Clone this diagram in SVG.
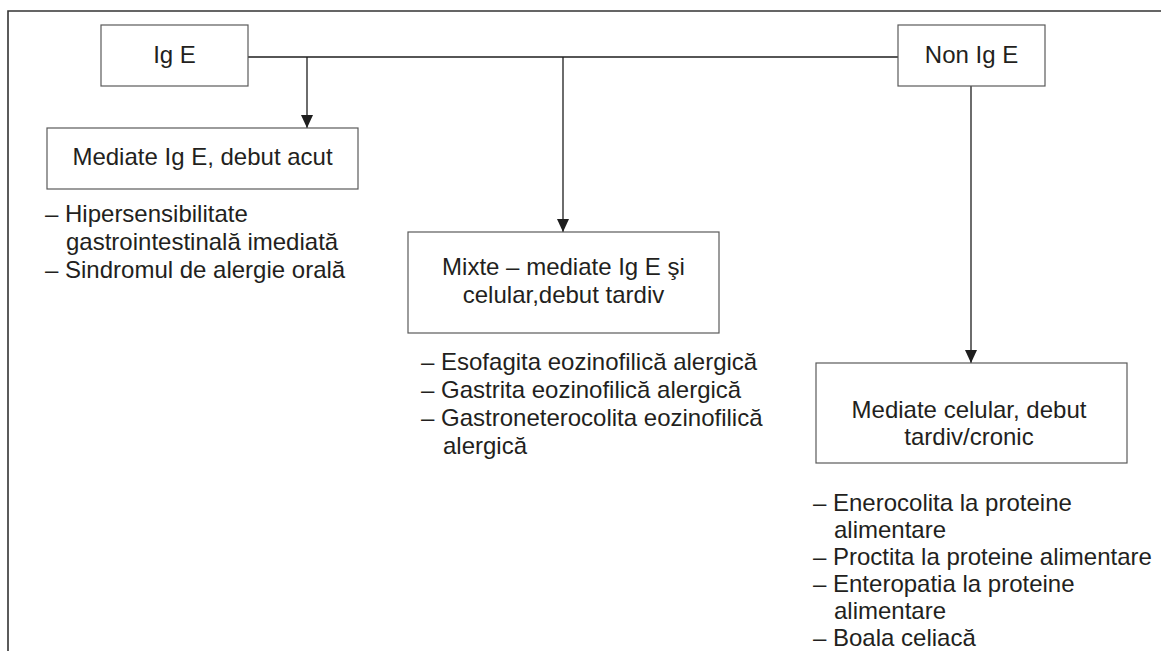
<svg xmlns="http://www.w3.org/2000/svg" width="1161" height="651" viewBox="0 0 1161 651">
  <style>
    .box { fill: #ffffff; stroke: #5a5a5a; stroke-width: 1.2; }
    .frame { fill: none; stroke: #333333; stroke-width: 1.6; }
    .conn { fill: none; stroke: #1e1e1e; stroke-width: 1.3; }
    text { font-family: "Liberation Sans", Arial, sans-serif; font-size: 24px; fill: #231f20; }
    .c { text-anchor: middle; }
  </style>
  <defs>
    <marker id="arrow" viewBox="0 0 13 12" refX="13" refY="6" markerWidth="13" markerHeight="12" markerUnits="userSpaceOnUse" orient="auto">
      <path d="M0,0 L13,6 L0,12 Z" fill="#1e1e1e"/>
    </marker>
  </defs>
  <rect width="1161" height="651" fill="#ffffff"/>
  <path class="frame" d="M8,651 L8,11 L1161,11"/>

  <g id="connectors">
    <line class="conn" x1="248" y1="57" x2="898" y2="57"/>
    <line class="conn" x1="307" y1="57" x2="307" y2="128" marker-end="url(#arrow)"/>
    <line class="conn" x1="563" y1="57" x2="563" y2="232" marker-end="url(#arrow)"/>
    <line class="conn" x1="971" y1="86" x2="971" y2="363" marker-end="url(#arrow)"/>
  </g>

  <g id="node-ige">
    <rect class="box" x="101" y="25" width="147" height="61"/>
    <text class="c" x="174.5" y="63">Ig E</text>
  </g>

  <g id="node-non-ige">
    <rect class="box" x="898" y="25" width="147" height="61"/>
    <text class="c" x="971.5" y="63">Non Ig E</text>
  </g>

  <g id="node-mediate-ige">
    <rect class="box" x="47" y="128" width="311" height="61"/>
    <text class="c" x="202.5" y="165">Mediate Ig E, debut acut</text>
  </g>

  <g id="list-mediate-ige">
    <text x="45" y="222">– Hipersensibilitate</text>
    <text x="66" y="250">gastrointestinală imediată</text>
    <text x="45" y="278">– Sindromul de alergie orală</text>
  </g>

  <g id="node-mixte">
    <rect class="box" x="408" y="232" width="311" height="101"/>
    <text class="c" x="563.5" y="275">Mixte – mediate Ig E şi</text>
    <text class="c" x="563.5" y="303">celular,debut tardiv</text>
  </g>

  <g id="list-mixte">
    <text x="421" y="370">– Esofagita eozinofilică alergică</text>
    <text x="421" y="398">– Gastrita eozinofilică alergică</text>
    <text x="421" y="426">– Gastroneterocolita eozinofilică</text>
    <text x="443" y="454">alergică</text>
  </g>

  <g id="node-mediate-celular">
    <rect class="box" x="816" y="363" width="311" height="100"/>
    <text class="c" x="969" y="418">Mediate celular, debut</text>
    <text class="c" x="969" y="445">tardiv/cronic</text>
  </g>

  <g id="list-mediate-celular">
    <text x="813" y="511">– Enerocolita la proteine</text>
    <text x="834" y="538">alimentare</text>
    <text x="813" y="565">– Proctita la proteine alimentare</text>
    <text x="813" y="592">– Enteropatia la proteine</text>
    <text x="834" y="619">alimentare</text>
    <text x="813" y="646">– Boala celiacă</text>
  </g>
</svg>
